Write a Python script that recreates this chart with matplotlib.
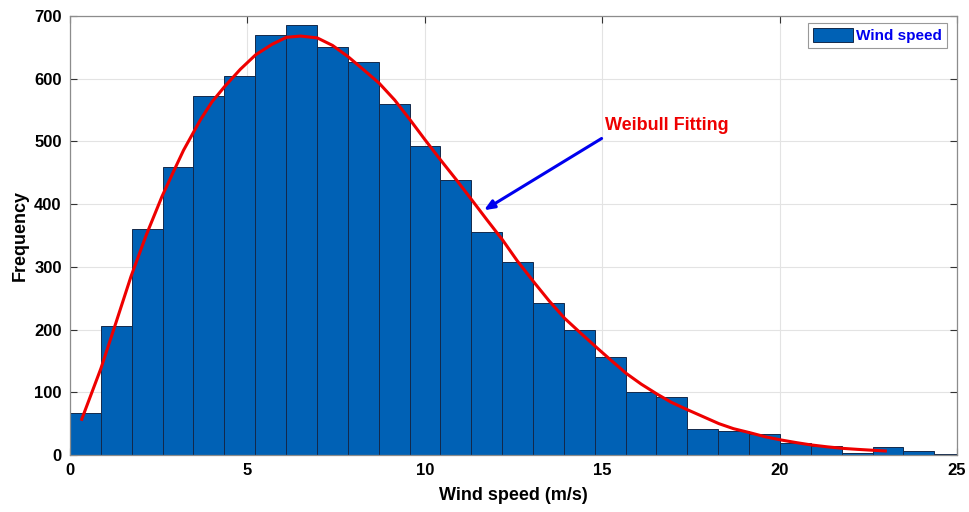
import matplotlib
matplotlib.use("Agg")
import matplotlib.pyplot as plt
import numpy as np

# histogram of wind speed (bin width ~0.87 m/s, starting at 0)
bin_width = 0.87
counts = [67, 205, 360, 460, 573, 604, 670, 686, 651, 626, 559, 493, 439,
          355, 307, 242, 200, 156, 100, 92, 42, 38, 34, 19, 14, 4, 12, 6, 1]

# Weibull fitting curve
fit_x = [0.33, 0.87, 1.3, 1.72, 2.15, 2.59, 2.9, 3.2, 3.67, 4.0, 4.35, 4.8,
         5.23, 5.7, 6.1, 6.5, 6.97, 7.4, 7.84, 8.3, 8.71, 9.15, 9.59, 10.0,
         10.45, 10.9, 11.32, 11.75, 12.19, 12.6, 13.07, 13.5, 13.94, 14.4,
         14.81, 15.25, 15.68, 16.1, 16.55, 16.95, 17.37, 17.85, 18.29, 18.7,
         19.16, 19.6, 20.04, 20.5, 20.9, 21.35, 21.78, 22.2, 22.65, 22.98]
fit_y = [57, 138, 212, 285, 351, 412, 450, 486, 534, 563, 587, 615,
         638, 655, 666, 668, 665, 653, 635, 613, 593, 566, 534, 503,
         470, 438, 407, 375, 343, 310, 276, 246, 218, 194,
         173, 151, 130, 113, 97, 84, 73, 61, 50, 42,
         35.6, 29, 24, 19.5, 16, 13, 10.6, 9, 7.5, 6.4]

x_ticks = [0, 5, 10, 15, 20, 25]
y_ticks = [0, 100, 200, 300, 400, 500, 600, 700]

NARROW = ["Liberation Sans Narrow", "Liberation Sans", "DejaVu Sans"]
SANS = ["Liberation Sans", "DejaVu Sans"]

fig = plt.figure(figsize=(9.7, 5.12), dpi=100)
ax = fig.add_axes([0.0722, 0.1113, 0.9144, 0.8575])

lefts = np.arange(len(counts)) * bin_width
ax.bar(lefts, counts, width=bin_width, align="edge", color="#0061B5",
       edgecolor="#13294B", linewidth=0.7, label="Wind speed", zorder=2)
ax.plot(fit_x, fit_y, color="#EE0000", linewidth=2.2, zorder=3,
        solid_joinstyle="round")

ax.annotate("", xy=(11.6, 388), xytext=(15.05, 507),
            arrowprops=dict(arrowstyle="-|>,head_length=0.6,head_width=0.25",
                            color="#0000EE", lw=2.2), zorder=4)
ax.text(15.07, 525, "Weibull Fitting", color="#EE0000", fontsize=13,
        fontweight="bold", family=SANS, va="center", ha="left", zorder=4)

ax.set_xlim(0, 25)
ax.set_ylim(0, 700)
ax.set_xticks(x_ticks)
ax.set_yticks(y_ticks)
ax.grid(True, color="#E3E3E3", linewidth=0.8, zorder=0)
ax.set_axisbelow(True)
ax.tick_params(direction="in", length=5, width=0.8, color="#333333",
               top=True, right=True, labelsize=12, pad=6)
for lab in ax.get_xticklabels() + ax.get_yticklabels():
    lab.set_fontweight("bold")
    lab.set_family(NARROW)
for sp in ax.spines.values():
    sp.set_color("#8C8C8C")
    sp.set_linewidth(0.9)

ax.set_xlabel("Wind speed (m/s)", fontsize=13, fontweight="bold",
              family=NARROW, labelpad=6)
ax.set_ylabel("Frequency", fontsize=13, fontweight="bold",
              family=NARROW, labelpad=4)

leg = ax.legend(loc="upper right", bbox_to_anchor=(0.989, 0.985),
                fancybox=False, framealpha=1, edgecolor="#999999",
                handlelength=2.6, handleheight=1.0, handletextpad=0.2,
                borderpad=0.35, borderaxespad=0,
                prop=dict(family=SANS, weight="bold", size=11))
for t in leg.get_texts():
    t.set_color("#0000EE")
leg.get_frame().set_linewidth(0.8)

fig.savefig("out.png", dpi=100)
